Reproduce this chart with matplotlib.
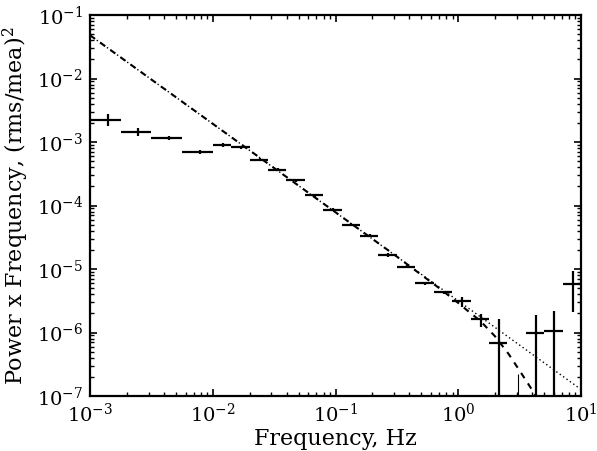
import numpy as np
import matplotlib
matplotlib.use("Agg")
from matplotlib import pyplot as plt

# frequency bins (Hz): lower edge, upper edge, centre
f_lo = [0.001, 0.00178, 0.00316, 0.00562, 0.01, 0.0141, 0.0200, 0.0282,
        0.0398, 0.0562, 0.0794, 0.112, 0.158, 0.224, 0.316, 0.447,
        0.631, 0.891, 1.26, 1.78, 2.51, 3.55, 5.01, 7.08]
f_hi = [0.00178, 0.00316, 0.00562, 0.01, 0.0141, 0.0200, 0.0282, 0.0398,
        0.0562, 0.0794, 0.112, 0.158, 0.224, 0.316, 0.447, 0.631,
        0.891, 1.26, 1.78, 2.51, 3.55, 5.01, 7.08, 10.0]
f_mid = [0.00139, 0.00247, 0.00439, 0.00781, 0.01205, 0.01705, 0.0241, 0.0340,
         0.0480, 0.0678, 0.0957, 0.135, 0.191, 0.270, 0.382, 0.539,
         0.761, 1.075, 1.52, 2.145, 3.03, 4.28, 6.05, 8.54]

# power x frequency and its errors (upper, lower)
pf = [2.25e-3, 1.44e-3, 1.17e-3, 6.95e-4, 9.08e-4, 8.24e-4, 5.27e-4, 3.67e-4,
      2.48e-4, 1.46e-4, 8.6e-5, 5.0e-5, 3.36e-5, 1.68e-5, 1.09e-5, 5.93e-6,
      4.27e-6, 3.16e-6, 1.63e-6, 6.8e-7, 5.0e-8, 9.8e-7, 1.06e-6, 5.8e-6]
err_up = [4.7e-4, 2.2e-4, 9e-5, 4e-5, 6e-5, 5e-5, 3e-5, 2e-5,
          1.3e-5, 8e-6, 5e-6, 3e-6, 2e-6, 1.1e-6, 7e-7, 4e-7,
          3e-7, 4e-7, 3.4e-7, 9.5e-7, 1.7e-7, 9.0e-7, 1.14e-6, 3.6e-6]
err_dn = [4.8e-4, 2.1e-4, 1.0e-4, 4e-5, 6e-5, 5e-5, 3e-5, 2e-5,
          1.3e-5, 8e-6, 5e-6, 3e-6, 2e-6, 1.1e-6, 7e-7, 4e-7,
          3e-7, 6e-7, 4.3e-7, 6.8e-7, 5.0e-8, 9.8e-7, 1.06e-6, 3.7e-6]

# pure power law (dotted)
pl_f = [0.001, 10.0]
pl_y = [0.048, 1.27e-7]

# model with high-frequency cutoff (dashed)
cut_f = [0.001, 0.3, 0.7, 1.0, 1.2, 1.51, 2.0, 2.58, 3.2, 3.89, 4.4]
cut_y = [0.048, 1.69e-5, 4.99e-6, 2.92e-6, 2.18e-6, 1.53e-6, 8.65e-7,
         4.55e-7, 2.42e-7, 1.35e-7, 9.1e-8]

plt.rcParams["font.family"] = "DejaVu Serif"
plt.rcParams["mathtext.fontset"] = "dejavuserif"
plt.rcParams["axes.unicode_minus"] = False

fig = plt.figure(figsize=(5.97, 4.51), dpi=100)
ax = fig.add_axes([90 / 597, 1 - 396 / 451, 491 / 597, 381 / 451])

f_mid = np.array(f_mid)
xerr = [f_mid - np.array(f_lo), np.array(f_hi) - f_mid]
main = [i for i in range(len(pf)) if i != 20]
ax.errorbar(f_mid[main], np.array(pf)[main],
            xerr=[xerr[0][main], xerr[1][main]],
            yerr=[np.array(err_dn)[main], np.array(err_up)[main]],
            fmt="none", ecolor="black", elinewidth=1.6, capsize=0)
# bin below the axis: only its upper error shows
ax.vlines(f_mid[20] + 0.05, pf[20], pf[20] + err_up[20], color="black", linewidth=0.8)

ax.plot(pl_f, pl_y, color="black", linewidth=1.0, linestyle=(0, (1, 2)))
ax.plot(cut_f, cut_y, color="black", linewidth=1.5, linestyle=(0, (3, 3)))

ax.set_xscale("log")
ax.set_yscale("log")
ax.set_xlim(1e-3, 10)
ax.set_ylim(1e-7, 1e-1)

ax.tick_params(which="both", direction="in", top=True, right=True, labelsize=14)
ax.tick_params(which="major", length=5, width=1.2, pad=5)
ax.tick_params(which="minor", length=3, width=1.0)
ax.xaxis.set_major_locator(matplotlib.ticker.LogLocator(base=10, numticks=10))
ax.yaxis.set_major_locator(matplotlib.ticker.LogLocator(base=10, numticks=10))
ax.xaxis.set_minor_locator(matplotlib.ticker.LogLocator(base=10, subs=np.arange(2, 10), numticks=20))
ax.yaxis.set_minor_locator(matplotlib.ticker.LogLocator(base=10, subs=np.arange(2, 10), numticks=20))
for s in ax.spines.values():
    s.set_linewidth(1.6)

ax.set_xlabel("Frequency, Hz", fontsize=16, labelpad=1)
ax.set_ylabel("Power x Frequency, (rms/mea)$^2$", fontsize=16, labelpad=4)

fig.savefig("out.png", dpi=100)
